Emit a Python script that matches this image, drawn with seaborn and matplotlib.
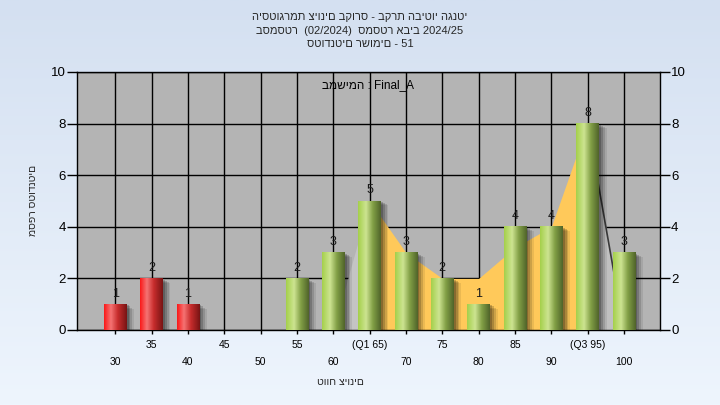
import numpy as np
import pandas as pd
import matplotlib
matplotlib.use("Agg")
import matplotlib.pyplot as plt
import seaborn as sns
from matplotlib.patches import Rectangle

# ---------------- data ----------------
categories = [30, 35, 40, 45, 50, 55, 60, 65, 70, 75, 80, 85, 90, 95, 100]
tick_labels = ["30", "35", "40", "45", "50", "55", "60", "(Q1 65)", "70",
               "75", "80", "85", "90", "(Q3 95)", "100"]
counts = [1, 2, 1, 0, 0, 2, 3, 5, 3, 2, 1, 4, 4, 8, 3]
curve = [0, 0, 0, 0, 0, 0, 0, 5, 3, 2, 2, 3.2, 4, 8, 0]
q1_index, q3_index = 7, 13
pass_threshold = 55

title_lines = ["היסטוגרמת ציונים בקורס - בקרת הביטוי הגנטי",
               "בסמסטר  (02/2024)  סמסטר אביב 2024/25",
               "סטודנטים רשומים - 51"]
inner_label = "במשימה : Final_A"
x_label = "טווח ציונים"
y_label = "מספר סטודנטים"

# ---------------- style ----------------
sns.set_style("white")
plt.rcParams['font.family'] = ['Liberation Sans', 'DejaVu Sans']

fig = plt.figure(figsize=(7.2, 4.05), dpi=100)

# background gradient
bg = fig.add_axes([0, 0, 1, 1], zorder=-10)
top_c = np.array([212, 224, 241]) / 255
bot_c = np.array([238, 245, 253]) / 255
t = np.linspace(0, 1, 200)[:, None]
grad = top_c[None, :] * (1 - t) + bot_c[None, :] * t
bg.imshow(grad[:, None, :], aspect='auto', extent=[0, 1, 0, 1])
bg.axis('off')

ax = fig.add_axes([77 / 720, 75 / 405, 583 / 720, 258 / 405])
ax.set_facecolor('#b4b4b4')

df = pd.DataFrame({"grade": [str(c) for c in categories], "count": counts})
palette = {str(c): ('#e82020' if c < pass_threshold else '#8db845') for c in categories}
sns.barplot(data=df, x="grade", y="count", hue="grade", palette=palette,
            order=df["grade"], legend=False, width=0.62, ax=ax, zorder=4,
            linewidth=0, saturation=1)

xpos = np.arange(len(categories))
curve_arr = np.array(curve, dtype=float)

# area behind bars
ax.fill_between(xpos[q1_index - 1:q1_index + 1], curve_arr[q1_index - 1:q1_index + 1],
                color='#c4c4c4', zorder=2, linewidth=0)
ax.fill_between(xpos[q3_index:q3_index + 2], curve_arr[q3_index:q3_index + 2],
                color='#c0c0c0', zorder=2, linewidth=0)
ax.plot(xpos[q3_index:q3_index + 2], curve_arr[q3_index:q3_index + 2],
        color='#3a3a3a', lw=1.2, zorder=2.5)
ax.fill_between(xpos[q1_index:q3_index + 1], curve_arr[q1_index:q3_index + 1],
                color='#ffc95a', zorder=2, linewidth=0)

# gradient + shadow on bars
def ramp(stops, n=64):
    pos = [s[0] for s in stops]
    cols = np.array([s[1] for s in stops]) / 255
    xs = np.linspace(0, 1, n)
    return np.stack([np.interp(xs, pos, cols[:, k]) for k in range(3)], axis=1)

red_grad = ramp([(0, (250, 25, 25)), (0.3, (245, 115, 115)), (0.6, (200, 45, 45)), (1, (120, 20, 20))])
green_grad = ramp([(0, (165, 208, 75)), (0.35, (205, 228, 145)), (0.65, (130, 160, 70)), (1, (80, 100, 42))])

for i, p in enumerate(list(ax.patches)):
    h = p.get_height()
    if h <= 0:
        continue
    x0, w = p.get_x(), p.get_width()
    for k, (dx, a) in enumerate([(0.06, 0.2), (0.11, 0.17), (0.16, 0.13), (0.21, 0.08)]):
        ax.add_patch(Rectangle((x0 + dx, -0.15), w, h + 0.15 - dx * 0.8, color='black',
                               alpha=a, lw=0, zorder=3))
    g = red_grad if categories[i] < pass_threshold else green_grad
    ax.imshow(g[None, :, :], extent=[x0, x0 + w, 0, h], aspect='auto', zorder=4.5)
    ax.text(x0 + w / 2, h + 0.18, str(counts[i]), ha='center', va='bottom',
            fontsize=9, color='#1a1a1a', zorder=6)

ax.set_xlim(-1.05, 14.99)
ax.set_ylim(0, 10)
ax.set_yticks(range(0, 11, 2))
ax.set_xticks(xpos, tick_labels)
ax.grid(True, color='black', lw=1.0, zorder=0)
ax.set_axisbelow(True)
for s in ax.spines.values():
    s.set_color('black')
    s.set_linewidth(1.0)
    s.set_visible(True)
ax.tick_params(axis='y', left=True, right=True, labelleft=True, labelright=True,
               length=7, width=1, pad=1, labelsize=9.5, colors='black')
ax.tick_params(axis='x', bottom=True, length=3, width=1, labelsize=7.5, colors='black')
for i, tk in enumerate(ax.xaxis.get_major_ticks()):
    tk.set_pad(4.5 if i % 2 == 1 else 16.5)
ax.set_xlabel("")
ax.set_ylabel("")

ax.text(0.5, 0.95, inner_label, transform=ax.transAxes, ha='center', va='center',
        fontsize=8.5, color='black', zorder=7)

for k, line in enumerate(title_lines):
    fig.text(0.5, 1 - (17 + 13.5 * k) / 405, line, ha='center', va='center', fontsize=8)
fig.text(340 / 720, 1 - 382 / 405, x_label, ha='center', va='center', fontsize=7.5)
fig.text(33 / 720, 1 - 200 / 405, y_label, ha='center', va='center', rotation=90, fontsize=7.5)

fig.savefig("out.png", dpi=100)
